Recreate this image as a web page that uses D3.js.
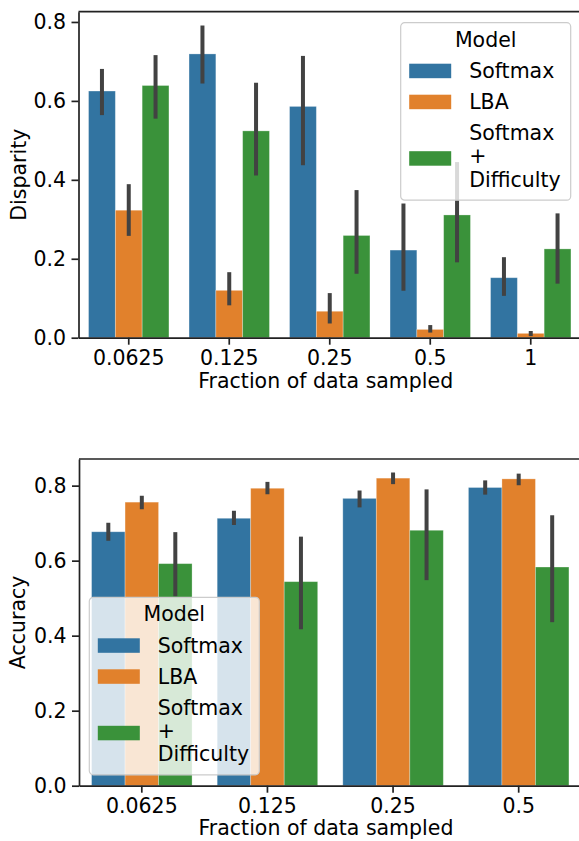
<!DOCTYPE html>
<html>
<head>
<meta charset="utf-8">
<script src="https://cdn.jsdelivr.net/npm/d3@7"></script>
<style>
  body { margin: 0; background: #fff; }
  svg text { font-family: "DejaVu Sans", sans-serif; fill: #000; }
</style>
</head>
<body>
<div id="chart"></div>
<script>
// models and colours (seaborn default palette)
var models = ["Softmax", "LBA", "Softmax\n+\nDifficulty"];
var colors = ["#3274a1", "#e1812c", "#3a923a"];

// top panel: disparity
var fracTop = ["0.0625", "0.125", "0.25", "0.5", "1"];
var dispSoftmax = [0.625, 0.719, 0.586, 0.222, 0.152];
var dispLBA = [0.323, 0.120, 0.067, 0.021, 0.011];
var dispDiff = [0.639, 0.524, 0.259, 0.311, 0.225];
var dispSoftmaxCI = [[0.564, 0.681], [0.644, 0.791], [0.437, 0.714], [0.119, 0.340], [0.106, 0.204]];
var dispLBACI = [[0.258, 0.389], [0.082, 0.166], [0.036, 0.113], [0.013, 0.032], [0.004, 0.017]];
var dispDiffCI = [[0.555, 0.716], [0.411, 0.646], [0.162, 0.374], [0.191, 0.445], [0.137, 0.315]];

// bottom panel: accuracy
var fracBottom = ["0.0625", "0.125", "0.25", "0.5"];
var accSoftmax = [0.677, 0.713, 0.766, 0.795];
var accLBA = [0.756, 0.793, 0.820, 0.818];
var accDiff = [0.592, 0.544, 0.681, 0.583];
var accSoftmaxCI = [[0.653, 0.701], [0.695, 0.733], [0.742, 0.787], [0.776, 0.814]];
var accLBACI = [[0.737, 0.773], [0.777, 0.810], [0.804, 0.835], [0.801, 0.832]];
var accDiffCI = [[0.505, 0.676], [0.417, 0.664], [0.548, 0.790], [0.436, 0.721]];

var yTicks = [0, 0.2, 0.4, 0.6, 0.8];
var FS = 20.5;

var svg = d3.select("#chart").append("svg")
    .attr("width", 579).attr("height", 841);

function panel(cfg) {
    var x = d3.scaleBand().domain(cfg.cats).range([cfg.left, cfg.right]);
    var xm = d3.scaleBand().domain(d3.range(models.length))
        .range([0.1 * x.bandwidth(), 0.9 * x.bandwidth()]);
    var y = d3.scaleLinear().domain([0, cfg.ymax]).range([cfg.bottom, cfg.top]);

    var g = svg.append("g");

    // bars
    cfg.means.forEach(function(vals, m) {
        g.selectAll(null).data(vals).enter().append("rect")
            .attr("x", function(d, i) { return x(cfg.cats[i]) + xm(m); })
            .attr("width", xm.bandwidth())
            .attr("y", function(d) { return y(d); })
            .attr("height", function(d) { return y(0) - y(d); })
            .attr("fill", colors[m])
            .attr("stroke", "#fff").attr("stroke-opacity", 0.35).attr("stroke-width", 0.8);
    });
    // error bars
    cfg.cis.forEach(function(vals, m) {
        g.selectAll(null).data(vals).enter().append("line")
            .attr("x1", function(d, i) { return x(cfg.cats[i]) + xm(m) + xm.bandwidth() / 2; })
            .attr("x2", function(d, i) { return x(cfg.cats[i]) + xm(m) + xm.bandwidth() / 2; })
            .attr("y1", function(d) { return y(d[0]); })
            .attr("y2", function(d) { return y(d[1]); })
            .attr("stroke", "#424242").attr("stroke-width", 4);
    });

    // axes
    var ya = g.append("g").attr("transform", "translate(" + cfg.left + ",0)")
        .call(d3.axisLeft(y).tickValues(yTicks).tickFormat(d3.format(".1f"))
            .tickSize(7).tickSizeOuter(0).tickPadding(5.5));
    var xa = g.append("g").attr("transform", "translate(0," + cfg.bottom + ")")
        .call(d3.axisBottom(x).tickSize(7).tickSizeOuter(0).tickPadding(5.5));
    [ya, xa].forEach(function(a) {
        a.selectAll("text").style("font-size", FS + "px").attr("font-family", "DejaVu Sans");
        a.selectAll("line").attr("stroke", "#222").attr("stroke-width", 1.7);
        a.select(".domain").attr("stroke", "#222").attr("stroke-width", 1.7);
    });
    // top and right spines
    g.append("line").attr("x1", cfg.left).attr("x2", cfg.right)
        .attr("y1", cfg.top).attr("y2", cfg.top).attr("stroke", "#222").attr("stroke-width", 1.7);
    g.append("line").attr("x1", cfg.right).attr("x2", cfg.right)
        .attr("y1", cfg.top).attr("y2", cfg.bottom).attr("stroke", "#222").attr("stroke-width", 1.7);

    // labels
    g.append("text").attr("x", (cfg.left + 581) / 2 - 4).attr("y", cfg.bottom + cfg.xlabOff)
        .attr("text-anchor", "middle").style("font-size", FS + "px")
        .text("Fraction of data sampled");
    g.append("text")
        .attr("transform", "translate(" + cfg.ylabX + "," + (cfg.top + cfg.bottom) / 2 + ") rotate(-90)")
        .attr("text-anchor", "middle").style("font-size", FS + "px")
        .text(cfg.ylabel);

    // legend
    var L = g.append("g").attr("transform", "translate(" + cfg.legX + "," + cfg.legY + ")");
    L.append("rect").attr("x", 0).attr("y", 0).attr("width", 170).attr("height", 177.5)
        .attr("rx", 4).attr("fill", "#fff").attr("fill-opacity", 0.8)
        .attr("stroke", "#cccccc").attr("stroke-width", 1.2);
    L.append("text").attr("x", 85).attr("y", 24).attr("text-anchor", "middle")
        .style("font-size", FS + "px").text("Model");
    var patchY = [41, 72, 128.5];
    var textY = [55.5, 86.5, 117.5];
    models.forEach(function(name, m) {
        L.append("rect").attr("x", 8.5).attr("y", patchY[m]).attr("width", 42).attr("height", 14.5)
            .attr("fill", colors[m]);
        var t = L.append("text").attr("x", 68.5).attr("y", textY[m]).style("font-size", FS + "px");
        name.split("\n").forEach(function(line, k) {
            t.append("tspan").attr("x", 68.5).attr("dy", k === 0 ? 0 : 23.3).text(line);
        });
    });
}

panel({
    cats: fracTop, means: [dispSoftmax, dispLBA, dispDiff], cis: [dispSoftmaxCI, dispLBACI, dispDiffCI],
    left: 78.5, right: 581, top: 11.7, bottom: 337.7, ymax: 0.826, xlabOff: 50.5,
    ylabel: "Disparity", ylabX: 26, legX: 400.7, legY: 22.7
});
panel({
    cats: fracBottom, means: [accSoftmax, accLBA, accDiff], cis: [accSoftmaxCI, accLBACI, accDiffCI],
    left: 79, right: 581.5, top: 459, bottom: 785.7, ymax: 0.871, xlabOff: 49.5,
    ylabel: "Accuracy", ylabX: 25, legX: 89.3, legY: 597.3
});
</script>
</body>
</html>
